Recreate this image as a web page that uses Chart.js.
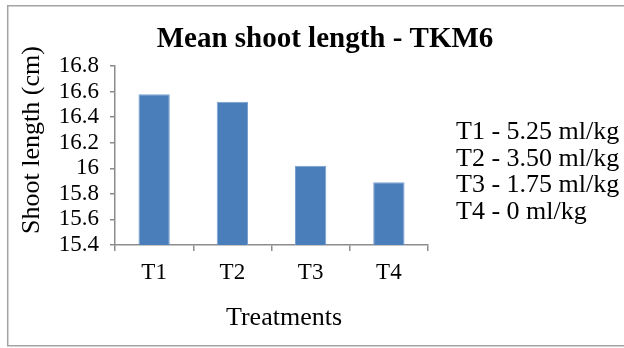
<!DOCTYPE html>
<html>
<head>
<meta charset="utf-8">
<script src="https://cdn.jsdelivr.net/npm/chart.js@4.4.1/dist/chart.umd.min.js"></script>
<style>
  html, body { margin: 0; padding: 0; background: #ffffff; }
  #wrap { width: 624px; height: 348px; position: relative; }
</style>
</head>
<body>
<div id="wrap"><canvas id="shoot-chart"></canvas></div>
<script>
// chart data
const treatments = ['T1', 'T2', 'T3', 'T4'];
const shootLength = [16.58, 16.52, 16.02, 15.89];
const yTickMin = 15.4;
const yTickMax = 16.8;
const yTickStep = 0.2;
const chartTitle = 'Mean shoot length - TKM6';
const yAxisTitle = 'Shoot length (cm)';
const xAxisTitle = 'Treatments';
const doseNotes = ['T1 - 5.25 ml/kg', 'T2 - 3.50 ml/kg', 'T3 - 1.75 ml/kg', 'T4 - 0 ml/kg'];

const serif = '"Liberation Serif", "Times New Roman", serif';

// draws the frame, title, axis titles and the dose notes on the right
const textPlugin = {
    id: 'textPlugin',
    afterDraw(chart) {
        const ctx = chart.ctx;
        ctx.save();

        // outer frame (runs off the right edge like the original)
        ctx.strokeStyle = '#a3a3a3';
        ctx.lineWidth = 1.5;
        ctx.beginPath();
        ctx.moveTo(640, 5.7);
        ctx.lineTo(7.7, 5.7);
        ctx.lineTo(7.7, 345.7);
        ctx.lineTo(640, 345.7);
        ctx.stroke();

        ctx.fillStyle = '#000000';
        ctx.textBaseline = 'alphabetic';

        // title
        ctx.font = 'bold 29px ' + serif;
        ctx.textAlign = 'center';
        ctx.fillText(chartTitle, 325, 46.5);

        // x axis title
        ctx.font = '26px ' + serif;
        ctx.fillText(xAxisTitle, 284, 325);

        // y axis title
        ctx.save();
        ctx.translate(38.5, 140);
        ctx.rotate(-Math.PI / 2);
        ctx.fillText(yAxisTitle, 0, 0);
        ctx.restore();

        // dose notes
        ctx.textAlign = 'left';
        doseNotes.forEach((line, i) => {
            ctx.fillText(line, 456, 139 + i * 26.7);
        });

        ctx.restore();
    }
};

const ctx = document.getElementById('shoot-chart').getContext('2d');
window.shootChart = new Chart(ctx, {
    type: 'bar',
    data: {
        labels: treatments,
        datasets: [{
            label: 'Mean shoot length',
            data: shootLength,
            backgroundColor: '#4a7ebb',
            borderColor: '#7aa0d0',
            borderWidth: 1,
            barPercentage: 0.4,
            categoryPercentage: 1.0
        }]
    },
    options: {
        responsive: true,
        maintainAspectRatio: false,
        animation: false,
        devicePixelRatio: 1,
        layout: {
            padding: { left: 0, top: 66, right: 196, bottom: 0 }
        },
        plugins: {
            legend: { display: false },
            title: { display: false },
            tooltip: { enabled: false }
        },
        scales: {
            x: {
                offset: true,
                grid: {
                    display: true,
                    drawOnChartArea: false,
                    offset: true,
                    tickLength: 6,
                    color: '#8c8c8c',
                    lineWidth: 1.5
                },
                border: { color: '#8c8c8c', width: 1.5 },
                ticks: {
                    color: '#000000',
                    padding: 8,
                    font: { family: serif, size: 23 }
                },
                afterFit(scale) {
                    scale.height = 103;
                }
            },
            y: {
                min: yTickMin,
                max: yTickMax,
                grid: {
                    display: true,
                    drawOnChartArea: false,
                    tickLength: 5,
                    color: '#8c8c8c',
                    lineWidth: 1.5
                },
                border: { color: '#8c8c8c', width: 1.5 },
                ticks: {
                    stepSize: yTickStep,
                    autoSkip: false,
                    color: '#000000',
                    padding: 11,
                    font: { family: serif, size: 23 },
                    callback: value => String(Number(value.toFixed(1)))
                },
                afterFit(scale) {
                    scale.width = 115;
                }
            }
        }
    },
    plugins: [textPlugin]
});
</script>
</body>
</html>
